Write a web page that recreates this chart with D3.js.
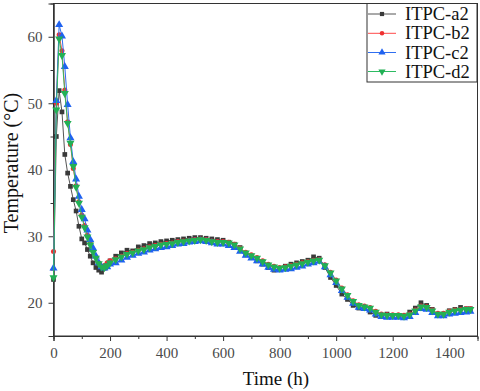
<!DOCTYPE html>
<html><head><meta charset="utf-8">
<script src="https://cdn.jsdelivr.net/npm/d3@7"></script>
<style>body{margin:0;background:#fff}svg{display:block}</style>
</head><body>
<svg id="c" width="480" height="391"></svg>
<script>
const time = [0,10,20,30,40,50,60,70,80,90,100,110,120,130,140,150,160,170,180,190,200,
  220,240,260,280,300,320,340,360,380,400,420,440,460,480,500,520,540,560,580,600,620,640,660,680,700,720,740,760,780,800,
  820,840,860,880,900,920,940,960,980,1000,1020,1040,1060,1080,1100,1120,1140,1160,1180,1200,1220,1240,1260,1280,1300,1320,1340,1360,1380,1400,1420,1440,1460,1475];
const a2 = [23.5,45,51.9,48.7,42.3,39.5,37.5,35.5,33.8,31.5,29.6,29.0,28.0,27.0,26.0,25.3,24.9,24.6,25.2,25.8,26.3,
  27.0,27.5,27.9,27.8,28.4,28.6,28.9,29.0,29.2,29.3,29.4,29.5,29.6,29.7,29.8,29.8,29.7,29.6,29.5,29.4,29.1,28.8,28.3,27.2,26.8,26.3,25.8,25.3,24.9,25.1,
  25.5,25.8,26.0,26.2,26.4,26.9,26.7,25.3,23.8,22.6,21.3,20.5,19.6,19.2,19.3,18.6,18.1,18.0,18.3,18.0,18.1,18.0,18.6,19.2,20.0,19.6,19.0,18.1,18.3,18.8,19.0,19.3,19.1,19.1];
const b2 = [27.7,50,60.3,57.9,52,47.2,43.8,40.2,37.6,35.2,33.2,31.6,30.2,29.0,27.8,26.9,26.0,25.5,25.6,26.0,26.3,
  26.6,27.0,27.4,27.6,27.9,28.1,28.4,28.6,28.8,28.9,29.0,29.2,29.3,29.4,29.5,29.6,29.5,29.3,29.2,29.2,29.1,28.8,28.2,27.6,27.2,26.8,26.3,25.8,25.5,25.3,
  25.4,25.6,25.8,26.0,26.2,26.4,26.5,25.7,24.6,23.4,22.2,21.2,20.3,19.7,19.5,19.3,18.7,18.3,18.2,18.2,18.2,18.1,18.3,18.9,19.5,19.4,18.9,18.4,18.4,18.7,18.9,19.0,19.1,19.1];
const c2 = [25.2,50.4,61.8,60.1,55.5,49.8,44.8,41.2,38.6,36.0,34.0,32.6,30.9,29.5,28.2,27.0,26.0,25.4,25.2,25.4,25.8,
  26.0,26.4,26.8,27.1,27.4,27.6,27.9,28.1,28.3,28.4,28.6,28.8,28.9,29.1,29.2,29.3,29.2,29.0,28.8,28.8,28.6,28.3,27.7,27.1,26.7,26.3,25.8,25.3,25.0,24.9,
  25.0,25.1,25.3,25.5,25.8,26.0,26.2,25.4,24.2,23.0,21.8,20.8,19.9,19.3,19.1,18.9,18.3,17.9,17.8,17.8,17.8,17.7,17.9,18.5,19.1,19.0,18.5,18.0,18.0,18.3,18.4,18.5,18.6,18.7];
const d2 = [23.8,49,59.7,57.2,51.5,47.0,44.0,40.5,37.4,35.0,32.9,31.3,29.9,28.7,27.6,26.7,25.9,25.4,25.3,25.6,26.0,
  26.5,26.9,27.3,27.5,27.8,28.0,28.3,28.5,28.7,28.8,28.9,29.1,29.2,29.3,29.4,29.5,29.4,29.2,29.1,29.1,29.0,28.7,28.1,27.5,27.1,26.7,26.2,25.7,25.4,25.2,
  25.3,25.5,25.7,25.9,26.1,26.3,26.4,25.6,24.5,23.3,22.1,21.1,20.2,19.6,19.4,19.2,18.6,18.2,18.1,18.1,18.1,18.0,18.2,18.8,19.4,19.3,18.8,18.3,18.3,18.6,18.8,18.9,19.0,19.0];
const seriesNames = ["ITPC-a2","ITPC-b2","ITPC-c2","ITPC-d2"];
const xTicks = [0,200,400,600,800,1000,1200,1400];
const yTicks = [20,30,40,50,60];

const colors = ["#555555","#ff4a4a","#2f6ef0","#2dbb62"];
const markColors = ["#3a3a3a","#ee3030","#1f62f0","#22b055"];
const symbols = [d3.symbolSquare, d3.symbolCircle, d3.symbolTriangle, d3.symbolTriangle];
const symSize = [22, 20, 28, 28];
const rot = [0,0,0,180];
const data = [a2,b2,c2,d2];

const svg = d3.select("#c");
const L = 53.5, R = 477.5, T = 3.5, B = 336;
const x = d3.scaleLinear().domain([0,1500]).range([L,R]);
const y = d3.scaleLinear().domain([15,65]).range([B,T]);
const font = "'Liberation Serif','Times New Roman',serif";

// frame
svg.append("rect").attr("x",L).attr("y",T).attr("width",R-L).attr("height",B-T)
  .attr("fill","none").attr("stroke","#333").attr("stroke-width",1);

// axes
const xa = svg.append("g").attr("transform",`translate(0,${B})`)
  .call(d3.axisBottom(x).tickValues(xTicks).tickSize(5).tickPadding(6).tickFormat(d3.format("d")));
const xm = svg.append("g").attr("transform",`translate(0,${B})`)
  .call(d3.axisBottom(x).tickValues(d3.range(100,1500,200)).tickSize(3).tickFormat(""));
const ya = svg.append("g").attr("transform",`translate(${L},0)`)
  .call(d3.axisLeft(y).tickValues(yTicks).tickSize(5).tickPadding(6));
const ym = svg.append("g").attr("transform",`translate(${L},0)`)
  .call(d3.axisLeft(y).tickValues([25,35,45,55]).tickSize(3).tickFormat(""));
[xa,xm,ya,ym].forEach(g=>{
  g.select(".domain").attr("stroke","#333");
  g.selectAll("line").attr("stroke","#333");
  g.selectAll("text").attr("font-family",font).attr("font-size",15).attr("fill","#4a4a4a");
});

// series
const line = d3.line().x((v,i)=>x(time[i])).y(v=>y(v));
data.forEach((vals,k)=>{
  const g = svg.append("g");
  g.append("path").datum(vals).attr("d",line).attr("fill","none")
    .attr("stroke",colors[k]).attr("stroke-width",1);
  g.selectAll("path.m").data(vals).enter().append("path").attr("class","m")
    .attr("d",d3.symbol().type(symbols[k]).size(symSize[k]))
    .attr("transform",(v,i)=>`translate(${x(time[i])},${y(v)}) rotate(${rot[k]})`)
    .attr("fill",markColors[k]);
});

// titles
svg.append("text").attr("x",276).attr("y",385).attr("text-anchor","middle")
  .attr("font-family",font).attr("font-size",19).attr("fill","#111").text("Time (h)");
svg.append("text").attr("transform","translate(18,163) rotate(-90)").attr("text-anchor","middle")
  .attr("font-family",font).attr("font-size",20).attr("fill","#111").text("Temperature (°C)");

// legend
const lg = svg.append("g");
lg.append("rect").attr("x",367).attr("y",T).attr("width",110).attr("height",78.5)
  .attr("fill","#fff").attr("stroke","#333").attr("stroke-width",1);
const ly = [14,33.3,52.5,71.5];
seriesNames.forEach((n,k)=>{
  lg.append("line").attr("x1",368).attr("x2",396).attr("y1",ly[k]).attr("y2",ly[k])
    .attr("stroke",colors[k]).attr("stroke-width",1);
  lg.append("path").attr("d",d3.symbol().type(symbols[k]).size(symSize[k]*0.8))
    .attr("transform",`translate(382,${ly[k]}) rotate(${rot[k]})`).attr("fill",markColors[k]);
  lg.append("text").attr("x",405).attr("y",ly[k]+6).attr("font-family",font)
    .attr("font-size",18.5).attr("fill","#111").text(n);
});
</script>
</body></html>
